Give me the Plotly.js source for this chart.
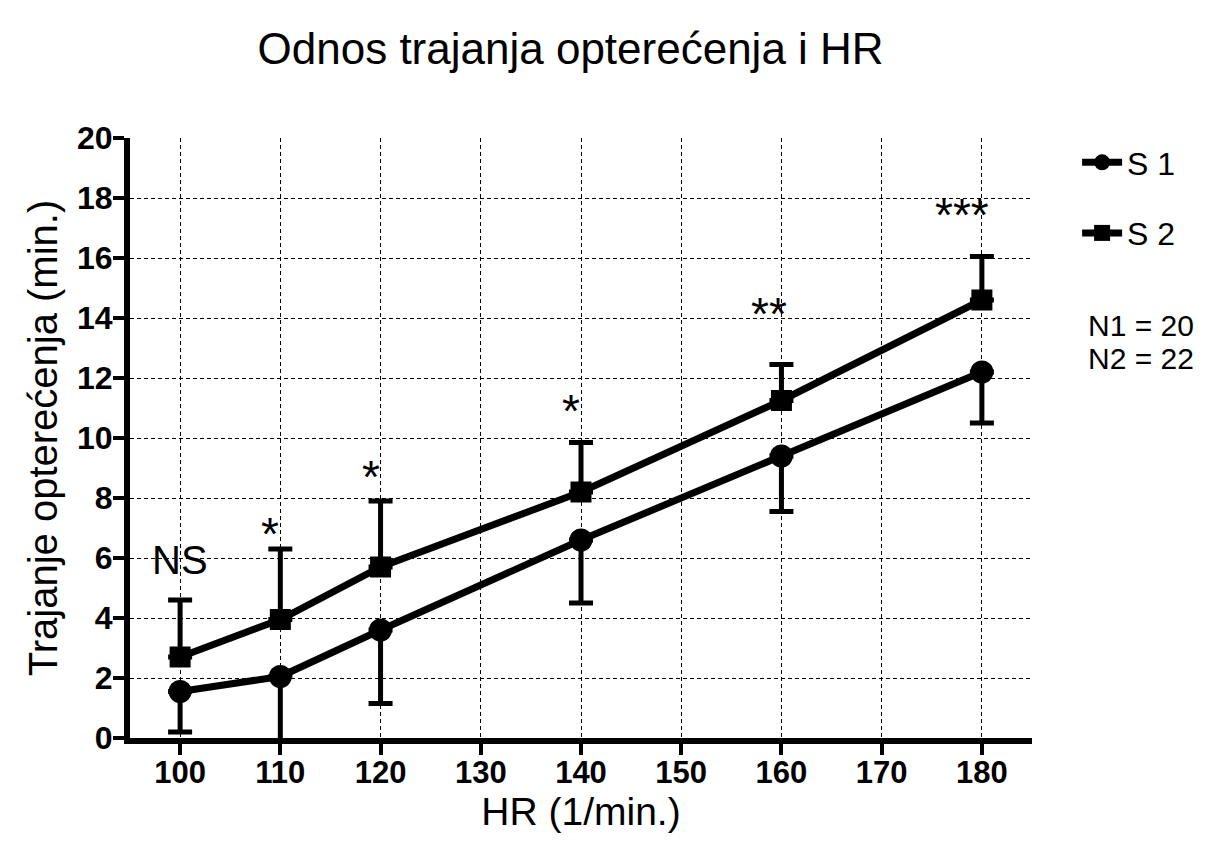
<!DOCTYPE html>
<html>
<head>
<meta charset="utf-8">
<script src="https://cdn.plot.ly/plotly-3.0.1.min.js"></script>
<style>html,body{margin:0;padding:0;background:#fff;}#chart{width:1214px;height:846px;}</style>
</head>
<body>
<div id="chart"></div>
<script>
const hr = [100, 110, 120, 140, 160, 180];
const s1Mean = [1.55, 2.05, 3.6, 6.6, 9.4, 12.2];
const s1Lower = [0.2, -0.5, 1.15, 4.5, 7.55, 10.5];
const s2Mean = [2.7, 3.95, 5.7, 8.2, 11.25, 14.6];
const s2Upper = [4.6, 6.3, 7.9, 9.85, 12.45, 16.05];
const sigLabels = ["NS", "*", "*", "*", "**", "***"];
const sigY = [5.93, 6.8, 8.7, 10.9, 14.15, 17.45];
const xTicks = [100, 110, 120, 130, 140, 150, 160, 170, 180];
const yTicks = [0, 2, 4, 6, 8, 10, 12, 14, 16, 18, 20];
const nLabels = ["N1 = 20", "N2 = 22"];

const s1Minus = s1Mean.map((m, i) => m - s1Lower[i]);
const s2Plus = s2Upper.map((u, i) => u - s2Mean[i]);

const FONT = "Liberation Sans, Arial, sans-serif";

const traces = [
  {
    x: hr, y: s1Mean, name: "S 1", legendgroup: "g1", type: "scatter", mode: "lines+markers",
    line: {color: "#000", width: 7},
    marker: {symbol: "circle", size: 23, color: "#000"},
    error_y: {type: "data", symmetric: false, array: s1Mean.map(() => 0), arrayminus: s1Minus,
              color: "#000", thickness: 5, width: 12}
  },
  {
    x: hr, y: s2Mean, name: "S 2", legendgroup: "g2", type: "scatter", mode: "lines+markers",
    line: {color: "#000", width: 7},
    marker: {symbol: "square", size: 21, color: "#000"},
    error_y: {type: "data", symmetric: false, array: s2Plus, arrayminus: s2Mean.map(() => 0),
              color: "#000", thickness: 5, width: 12}
  }
];

const xShifts = [0, -10, -10, -10, -12, -20];
const annotations = hr.map((x, i) => ({
  x: x, y: sigY[i], xref: "x", yref: "y", text: sigLabels[i], showarrow: false,
  xshift: xShifts[i], yanchor: "middle",
  font: {family: FONT, size: i === 0 ? 40 : 46, color: "#000"}
}));

const L = 130, R = 182, T = 138, B = 108, W = 1214, H = 846;
const pw = W - L - R;
const nPix = [325, 358];
nLabels.forEach((t, i) => {
  annotations.push({
    x: (1086 - L) / pw, y: 1, xref: "paper", yref: "paper", xanchor: "left", yanchor: "middle",
    yshift: -(nPix[i] - T), text: t, showarrow: false,
    font: {family: FONT, size: 30, color: "#000"}
  });
});

const layout = {
  width: W, height: H,
  margin: {l: L, r: R, t: T, b: B},
  paper_bgcolor: "#fff", plot_bgcolor: "#fff",
  font: {family: FONT, color: "#000"},
  title: {text: "Odnos trajanja opterećenja i HR", font: {family: FONT, size: 44, color: "#000"},
          x: 0.47, xanchor: "center", y: 0.942, yanchor: "middle"},
  xaxis: {
    range: [95, 185], tickvals: xTicks, ticktext: xTicks.map(String),
    ticks: "outside", ticklen: 11, tickwidth: 4, tickcolor: "#000",
    showline: true, linecolor: "#000", linewidth: 6,
    showgrid: true, gridcolor: "#000", gridwidth: 1, griddash: "4px,3px",
    zeroline: false, ticklabelstandoff: -9,
    tickfont: {family: FONT, size: 31, color: "#000", weight: "bold"},
    title: {text: "HR (1/min.)", font: {family: FONT, size: 39, color: "#000"}, standoff: 0}
  },
  yaxis: {
    range: [0, 20], tickvals: yTicks, ticktext: yTicks.map(String),
    ticks: "outside", ticklen: 11, tickwidth: 4, tickcolor: "#000",
    showline: true, linecolor: "#000", linewidth: 6,
    showgrid: true, gridcolor: "#000", gridwidth: 1, griddash: "4px,3px",
    zeroline: false, ticklabelstandoff: -6,
    tickfont: {family: FONT, size: 32, color: "#000", weight: "bold"},
    title: {text: "Trajanje opterećenja (min.)", font: {family: FONT, size: 40, color: "#000"}, standoff: 9}
  },
  showlegend: true,
  legend: {x: 1.05, y: 1.005, xanchor: "left", yanchor: "top",
           font: {family: FONT, size: 32, color: "#000"}, tracegroupgap: 26,
           itemwidth: 40, bgcolor: "rgba(0,0,0,0)"},
  annotations: annotations
};

Plotly.newPlot("chart", traces, layout, {displayModeBar: false});
</script>
</body>
</html>
